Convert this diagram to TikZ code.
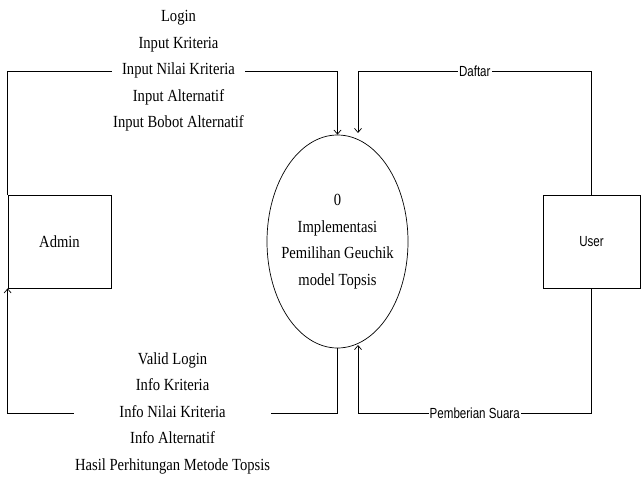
\documentclass[tikz,border=0pt]{standalone}
\usepackage{fontspec}
\setmainfont{Liberation Serif}[FakeStretch=0.86]
\newfontfamily\dfdsans{Liberation Sans}[FakeStretch=0.79]
\usetikzlibrary{shapes,positioning,arrows.meta}

\begin{document}
\begin{tikzpicture}[x=0.03cm,y=-0.03cm,
	font=\fontsize{14.5}{22.6}\selectfont,
	entity/.style={draw, line width=.6pt, minimum width=3.09cm, minimum height=2.79cm, inner sep=0pt},
	process/.style={ellipse, draw, line width=.6pt, minimum width=4.23cm, minimum height=6.39cm, align=center, inner xsep=-8pt, inner ysep=0pt},
	flow/.style={-{Straight Barb[length=3.5pt,width=6pt]}, line width=.6pt},
	flowlabel/.style={fill=white, align=center, inner sep=1pt},
	sflabel/.style={fill=white, inner sep=1pt, font=\dfdsans\fontsize{12.5}{14}\selectfont}]
	\useasboundingbox (0,0) rectangle (641,477);
	
	% draw entities
	\node[entity] (admin) at (59.5,241.5) {Admin};
	\node[entity, minimum width=2.91cm, font=\dfdsans\fontsize{12.5}{14}\selectfont] (user) at (591.5,241.5) {User};
	
	% draw process
	\node[process] (proses) at (337.5,241.5) {0\\Implementasi\\Pemilihan Geuchik\\model Topsis};
	
	% levels of the flow lines
	\coordinate (topY) at (0,71);
	\coordinate (botY) at (0,413);
	\coordinate (daftar in) at (358,133);
	\coordinate (suara in) at (358,345);
	
	% admin <-> process
	\draw[flow] (admin.north west) -- (admin.north west |- topY) -- node[flowlabel, pos=.518] (inputs) {Login\\Input Kriteria\\Input Nilai Kriteria\\Input Alternatif\\Input Bobot Alternatif} (proses.north |- topY) -- (proses.north);
	\draw[flow] (proses.south) -- (proses.south |- botY) -- node[flowlabel] (infos) {Valid Login\\Info Kriteria\\Info Nilai Kriteria\\Info Alternatif\\Hasil Perhitungan Metode Topsis} (admin.south west |- botY) -- (admin.south west);
	
	% user -> process
	\draw[flow] (user.north) -- (user.north |- topY) -- node[sflabel] (daftar) {Daftar} (daftar in |- topY) -- (daftar in);
	\draw[flow] (user.south) -- (user.south |- botY) -- node[sflabel] (suara) {Pemberian Suara} (suara in |- botY) -- (suara in);
\end{tikzpicture}
\end{document}
